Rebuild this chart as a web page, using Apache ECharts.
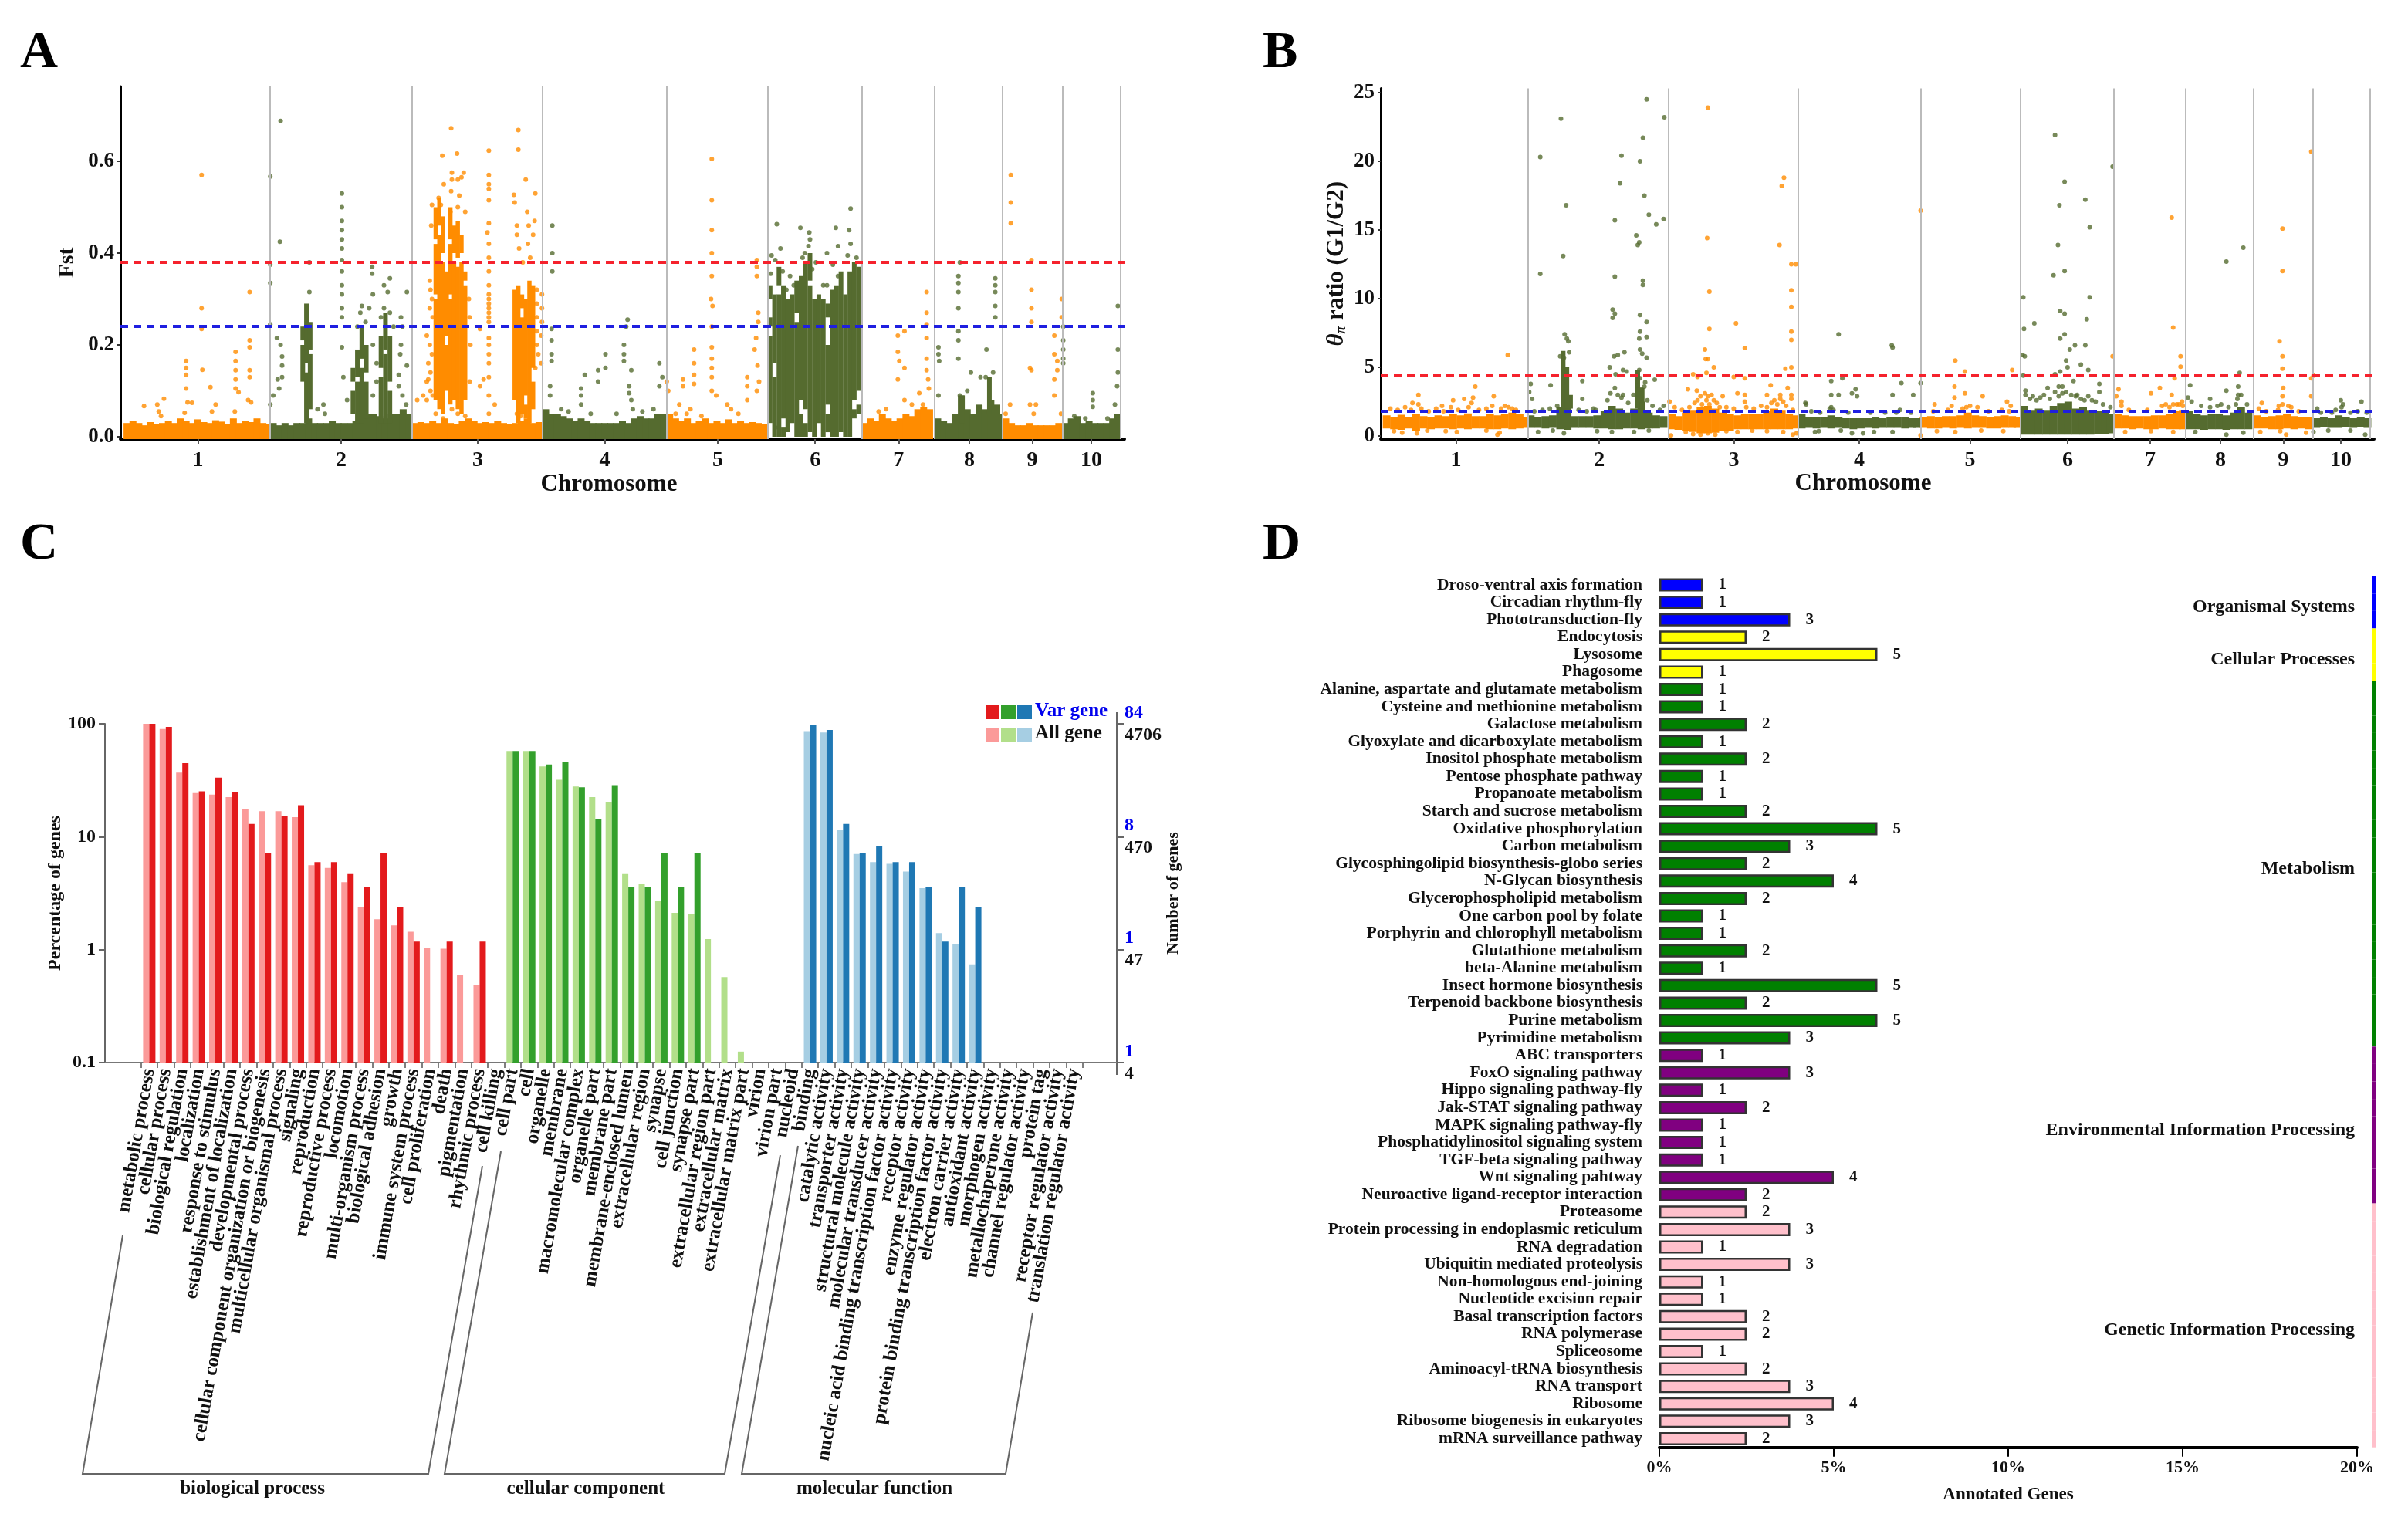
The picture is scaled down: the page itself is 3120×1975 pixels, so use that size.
<!DOCTYPE html>
<html>
<head>
<meta charset="utf-8">
<title>Fst, pi ratio, GO and KEGG panels</title>
<script src="https://cdn.jsdelivr.net/npm/echarts@6/dist/echarts.min.js"></script>
<style>
  html, body { margin: 0; background: #fff; }
  #main { width: 3120px; height: 1975px; }
</style>
</head>
<body>
<div id="main"></div>
<script>
// panel A / B: x is position along the genome in plot units
const chrLabels = ['1', '2', '3', '4', '5', '6', '7', '8', '9', '10'];
const fstChrCenters = [268, 462, 647, 819, 972, 1104, 1217, 1313, 1398, 1478];
const fstChrEnds = [366, 558, 735, 903, 1040, 1167, 1266, 1358, 1439, 1517];
const fstCut = [0.378, 0.237];
const piChrCenters = [279, 473, 655, 825, 975, 1107, 1219, 1314, 1399, 1477];
const piChrEnds = [376, 567, 742, 908, 1043, 1170, 1267, 1359, 1439, 1516];
const piCut = [4.39, 1.82];

// [x, top] baseline of the Fst plot
const fstBaseOrange = [[172,.03],[180,.035],[188,.03],[196,.025],[204,.032],[212,.028],[220,.03],[228,.035],[236,.03],[244,.04],[252,.035],[260,.03],[268,.038],[276,.032],[284,.03],[292,.036],[300,.033],[308,.028],[316,.04],[324,.03],[332,.035],[340,.032],[348,.04],[356,.03],[362,.028],
[562,.03],[570,.032],[578,.03],[586,.035],[594,.03],[602,.04],[610,.03],[618,.028],[626,.035],[634,.04],[642,.035],[650,.03],[658,.032],[666,.03],[674,.035],[682,.03],[690,.028],[698,.03],[706,.035],[714,.04],[722,.03],[730,.032],
[907,.05],[915,.04],[923,.035],[931,.04],[939,.03],[947,.035],[955,.04],[963,.03],[971,.035],[979,.03],[987,.038],[995,.03],[1003,.035],[1011,.03],[1019,.032],[1027,.03],[1035,.028],
[1171,.03],[1179,.04],[1187,.035],[1195,.05],[1203,.04],[1211,.035],[1219,.04],[1227,.05],[1235,.045],[1243,.06],[1251,.065],[1259,.06],
[1362,.04],[1370,.03],[1378,.025],[1386,.025],[1394,.03],[1402,.025],[1410,.025],[1418,.025],[1426,.025],[1434,.03]];
const fstBaseGreen = [[370,.03],[378,.025],[386,.03],[394,.025],[402,.03],[410,.03],[418,.04],[426,.03],[434,.03],[442,.03],[450,.035],[458,.03],[466,.03],[474,.03],[482,.035],[490,.04],[498,.05],[506,.05],[514,.045],[522,.04],[530,.05],[538,.05],[546,.06],[554,.05],
[739,.06],[747,.05],[755,.05],[763,.045],[771,.04],[779,.035],[787,.04],[795,.035],[803,.03],[811,.03],[819,.03],[827,.03],[835,.03],[843,.035],[851,.03],[859,.04],[867,.045],[875,.04],[883,.04],[891,.05],[899,.05],
[1270,.04],[1278,.035],[1286,.03],[1294,.05],[1302,.09],[1310,.06],[1318,.05],[1326,.07],[1334,.06],[1342,.08],[1350,.07],[1354,.05],
[1443,.03],[1451,.04],[1459,.045],[1467,.03],[1475,.035],[1483,.03],[1491,.03],[1499,.03],[1507,.04],[1514,.05]];
// [x, low, high] solid runs of points, with the white gaps left open
const fstRunsOrange = [[590,.08,.3],[590,.31,.42],[590,.43,.5],[595,.06,.44],[595,.46,.52],[600,.05,.38],[600,.4,.48],[605,.1,.2],[605,.22,.36],[610,.07,.3],[610,.31,.42],[610,.43,.5],[615,.08,.38],[615,.4,.46],[620,.06,.37],[620,.39,.47],[625,.05,.38],[625,.4,.44],[630,.08,.33],[630,.34,.36],
[697,.08,.32],[702,.03,.33],[707,.05,.26],[707,.28,.31],[712,.04,.07],[712,.09,.3],[717,.03,.34],[722,.06,.12],[722,.15,.33]];
const fstRunsGreen = [[410,.12,.2],[410,.21,.24],[415,.03,.14],[415,.16,.29],[420,.06,.18],[420,.19,.25],[478,.05,.1],[478,.12,.15],[484,.03,.12],[484,.13,.19],[490,.03,.15],[490,.17,.24],[496,.04,.12],[496,.14,.2],[516,.03,.13],[516,.15,.22],[522,.03,.18],[522,.19,.27],[528,.03,.1],[528,.12,.22],
[1043,.03,.22],[1043,.24,.26],[1043,.3,.33],[1049,0,.13],[1049,.16,.31],[1055,0,.31],[1055,.33,.37],[1061,.04,.33],[1061,0,.02],[1067,.01,.3],[1073,.03,.31],[1079,0,.25],[1079,.27,.34],[1085,0,.05],[1085,.08,.35],[1091,.06,.38],[1091,0,.03],[1097,.01,.33],[1097,.34,.4],[1103,0,.3],[1109,.03,.31],[1115,0,.3],[1121,.01,.05],[1121,.07,.2],[1121,.26,.29],[1127,0,.32],[1133,0,.33],[1139,.01,.36],[1145,0,.31],[1151,0,.36],[1157,.04,.06],[1157,.08,.38],[1163,.05,.07],[1163,.1,.37],
[1303,.03,.09],[1340,.05,.13]];
// [x, y] single points
const fstPointsOrange = [[273,.57],[273,.28],[273,.235],[274,.146],[252,.165],[252,.15],[252,.135],[252,.105],[285,.108],[254,.075],[260,.074],[195,.067],[222,.083],[213,.07],[215,.055],[218,.045],[250,.052],[292,.07],[287,.055],[319,.185],[319,.165],[319,.145],[319,.125],[319,.105],[323,.097],[338,.315],[338,.21],[338,.195],[338,.145],[338,.13],[336,.08],[340,.075],[318,.055],
[611,.672],[702,.668],[702,.625],[599,.612],[619,.617],[662,.623],[612,.575],[612,.56],[620,.56],[628,.575],[625,.565],[662,.57],[662,.55],[662,.54],[712,.56],[601,.55],[611,.535],[696,.527],[725,.53],[662,.515],[622,.525],[594,.52],[585,.505],[597,.505],[620,.5],[630,.49],[610,.49],[697,.51],[714,.49],[584,.46],[662,.465],[660,.445],[662,.42],[700,.46],[700,.44],[716,.46],[724,.47],[722,.44],[715,.42],[703,.41],[718,.39],[708,.38],[662,.39],[662,.36],[662,.33],[662,.31],[662,.3],[662,.29],[662,.28],[662,.27],[662,.26],[662,.25],[650,.235],[662,.215],[662,.2],[662,.18],[662,.16],[655,.125],[650,.11],[662,.13],[670,.07],[662,.09],[662,.05],[580,.16],[580,.125],[590,.05],[600,.04],[565,.08],[573,.09],[612,.06],[620,.05],[630,.045],[700,.05],[705,.045],
[582,.34],[583,.32],[585,.3],[582,.28],[586,.26],[578,.22],[582,.2],[585,.18],[583,.14],[578,.12],[583,.1],[586,.09],[578,.08],[635,.3],[636,.26],[637,.2],[636,.12],[727,.32],[727,.29],[727,.26],[727,.23],[727,.2],[734,.31],[734,.28],[734,.25],[733,.22],[729,.18],[725,.15],[733,.16],
[964,.605],[964,.515],[964,.45],[964,.4],[964,.35],[963,.3],[965,.285],[964,.24],[964,.195],[964,.17],[964,.15],[964,.13],[964,.1],[970,.09],[940,.19],[940,.16],[940,.135],[940,.115],[925,.125],[925,.11],[903,.12],[905,.1],[1025,.385],[1025,.37],[1025,.35],[1027,.27],[1027,.25],[1024,.215],[1022,.19],[1026,.155],[1012,.13],[1012,.11],[1028,.12],[1025,.1],[1012,.08],[985,.07],[990,.06],[1000,.05],[935,.06],[920,.07],[915,.05],[930,.05],[950,.045],
[1255,.315],[1255,.27],[1255,.245],[1255,.215],[1225,.23],[1216,.22],[1216,.185],[1218,.165],[1225,.15],[1216,.125],[1255,.17],[1255,.145],[1257,.125],[1258,.105],[1245,.095],[1225,.08],[1235,.07],[1250,.07],[1200,.06],[1190,.055],
[1369,.57],[1369,.51],[1369,.465],[1397,.385],[1397,.32],[1397,.28],[1397,.25],[1438,.3],[1438,.26],[1428,.22],[1428,.18],[1395,.15],[1397,.145],[1432,.165],[1432,.145],[1428,.125],[1428,.09],[1368,.07],[1395,.07],[1403,.07],[1400,.05],[1437,.05],[1362,.05]];
const fstPointsGreen = [[380,.688],[366,.567],[379,.425],[366,.375],[366,.335],[366,.245],[375,.215],[380,.2],[382,.175],[382,.155],[382,.13],[376,.125],[378,.105],[370,.09],[366,.07],[419,.38],[419,.315],[463,.53],[463,.5],[463,.47],[463,.45],[463,.43],[463,.41],[463,.385],[463,.36],[463,.33],[463,.31],[463,.28],[463,.26],[463,.195],[465,.13],[504,.37],[504,.355],[528,.345],[520,.33],[525,.315],[505,.31],[551,.315],[490,.285],[500,.28],[520,.28],[543,.26],[545,.24],[543,.2],[542,.18],[551,.155],[540,.135],[540,.11],[438,.07],[470,.08],[430,.06],[440,.05],[550,.07],[545,.09],[484,.24],[488,.27],[495,.25],[516,.26],[528,.27],[533,.24],[505,.2],[510,.16],[510,.12],[505,.09],
[748,.46],[748,.4],[748,.36],[747,.235],[747,.21],[747,.18],[747,.165],[745,.11],[745,.09],[850,.255],[848,.24],[845,.2],[845,.18],[845,.165],[820,.18],[820,.15],[792,.135],[810,.145],[810,.12],[787,.105],[787,.09],[787,.07],[855,.145],[852,.11],[852,.095],[855,.08],[893,.16],[897,.13],[893,.11],[857,.06],[870,.055],[885,.06],[760,.06],[770,.055],[800,.05],[835,.05],
[1052,.463],[1084,.455],[1132,.455],[1150,.45],[1152,.497],[1096,.445],[1097,.43],[1095,.415],[1057,.41],[1045,.395],[1135,.415],[1120,.4],[1152,.42],[1148,.395],[1160,.39],[1050,.385],[1087,.39],[1105,.38],[1128,.375],[1090,.4],[1100,.365],[1044,.355],[1060,.36],[1070,.35],[1075,.33],[1115,.33],[1135,.35],[1065,.32],[1050,.02],[1120,.33],
[1300,.38],[1298,.35],[1298,.335],[1298,.315],[1298,.28],[1298,.23],[1298,.21],[1298,.17],[1271,.195],[1271,.18],[1272,.165],[1271,.09],[1348,.345],[1348,.33],[1348,.315],[1348,.285],[1348,.26],[1336,.19],[1345,.14],[1328,.13],[1315,.14],[1310,.1],[1300,.09],[1335,.13],
[1514,.285],[1514,.19],[1514,.14],[1513,.11],[1480,.095],[1480,.08],[1480,.065],[1440,.24],[1440,.21],[1440,.19],[1440,.17],[1440,.16],[1510,.07],[1455,.045],[1470,.04],[1500,.04]];

// [x, low, high] main band of the pi ratio plot
const piBandOrange = [[185,.55,1.5],[195,.5,1.4],[205,.45,1.55],[215,.55,1.4],[225,.4,1.6],[235,.55,1.45],[245,.5,1.4],[255,.55,1.5],[265,.55,1.45],[275,.5,1.6],[285,.55,1.5],[295,.5,1.65],[305,.55,1.45],[315,.55,1.45],[325,.5,1.6],[335,.5,1.5],[345,.55,1.6],[355,.5,1.7],[365,.55,1.6],[372,.6,1.4],
[572,.5,1.6],[580,.45,1.45],[590,.35,1.7],[600,.3,1.9],[610,.2,2.1],[620,.2,2.2],[630,.25,2],[640,.35,1.7],[650,.4,1.6],[660,.5,1.5],[670,.5,1.6],[680,.5,1.6],[690,.5,1.6],[700,.5,1.8],[710,.5,2],[720,.5,1.9],[730,.5,1.6],[738,.55,1.5],
[912,.6,1.4],[922,.55,1.45],[932,.55,1.4],[942,.6,1.45],[952,.55,1.45],[962,.6,1.5],[972,.55,1.7],[982,.6,1.5],[992,.6,1.45],[1002,.55,1.4],[1012,.55,1.45],[1022,.6,1.5],[1032,.6,1.45],[1039,.6,1.4],
[1175,.55,1.6],[1185,.55,1.5],[1195,.5,1.45],[1205,.55,1.45],[1215,.5,1.45],[1225,.5,1.5],[1235,.55,1.5],[1245,.5,1.6],[1255,.5,1.8],[1263,.5,1.9],
[1364,.55,1.5],[1374,.55,1.4],[1384,.5,1.45],[1394,.5,1.5],[1404,.55,1.6],[1414,.5,1.45],[1424,.55,1.4],[1434,.5,1.4]];
const piBandGreen = [[380,.6,1.5],[390,.6,1.4],[400,.55,1.45],[410,.6,1.5],[420,.5,2.1],[430,.45,2.6],[440,.6,1.45],[450,.6,1.45],[460,.6,1.45],[470,.55,1.5],[480,.55,1.8],[490,.5,2.2],[500,.5,2],[510,.55,1.7],[520,.55,2],[530,.5,2.5],[540,.55,1.7],[550,.55,1.5],[560,.6,1.45],
[747,.55,1.6],[757,.6,1.4],[767,.55,1.35],[777,.6,1.4],[787,.55,1.5],[797,.6,1.35],[807,.55,1.3],[817,.5,1.3],[827,.55,1.3],[837,.6,1.3],[847,.55,1.35],[857,.6,1.3],[867,.6,1.35],[877,.6,1.35],[887,.55,1.35],[897,.6,1.3],[903,.6,1.3],
[1048,.1,2.2],[1058,.1,1.9],[1068,.1,2],[1078,.1,1.9],[1088,.1,2.2],[1098,.1,2.4],[1108,.1,2.5],[1118,.1,2],[1128,.1,2.1],[1138,.1,1.9],[1148,.15,1.8],[1158,.15,1.7],[1165,.2,1.6],
[1272,.5,1.8],[1282,.5,1.6],[1292,.45,1.5],[1302,.5,1.6],[1312,.5,1.6],[1322,.45,1.5],[1332,.5,1.7],[1342,.5,2.1],[1352,.5,1.7],
[1444,.6,1.3],[1454,.65,1.35],[1464,.6,1.3],[1474,.6,1.5],[1484,.65,1.35],[1494,.6,1.3],[1504,.65,1.35],[1513,.6,1.3]];
const piRunsGreen = [[424,2,6.2],[429,2,5],[434,2,3],[525,2,4.8],[531,2,3.5]];
const piPointsOrange = [[349,5.9],[228,3],[305,3.6],[275,2.6],[220,2.4],[228,2.3],[290,2.7],[302,2.8],[330,2.9],[260,2.2],[345,2.2],[355,2],[300,2.4],[335,.1],
[190,2],[200,1.9],[210,2.1],[218,1.9],[232,2],[242,1.8],[252,2],[262,1.8],[272,2.1],[282,1.9],[296,2.1],[310,1.9],[320,2],[328,2.2],[340,2],[350,2.1],[360,1.9],[195,.35],[206,.25],[226,.2],[240,.4],[265,.35],[280,.3],[320,.4],[338,.25],
[620,23.9],[723,18.8],[720,18.2],[619,14.4],[717,13.9],[739,12.5],[733,12.5],[733,10.6],[622,10.5],[733,9.4],[658,8.2],[622,7.8],[733,7.6],[733,7],[670,6.4],[616,6.3],[617,5.6],[620,5.6],[628,5],[725,4.9],[733,5],[600,4.5],[618,4.6],[606,4.3],[670,4.2],[655,4.3],[593,3.4],[605,3.3],[705,3.7],[728,3.5],[733,3],[733,2.7],[660,3.1],[670,3],[640,2.9],[670,2.5],[718,3],[700,3],[568,2.5],[570,.05],
[575,2.1],[585,1.9],[595,2.1],[602,2.4],[606,2.6],[610,2.9],[612,2.3],[616,3.1],[618,2.6],[620,2.9],[622,2.3],[625,3],[628,2.6],[632,2.4],[636,2.1],[645,2.1],[655,2],[672,2.1],[682,2],[692,2.2],[700,2.1],[706,2.4],[710,2.6],[714,2.3],[718,2.7],[722,2.5],[726,2.2],[735,1.9],[590,.3],[600,.15],[610,.1],[620,.2],[630,.1],[645,.35],[660,.3],[680,.4],[700,.35],[722,.3],[735,.1],[740,.2],
[908,16.4],[955,5.5],[968,4.7],[1032,4.8],[954,3.6],[954,2.8],[968,3.1],[992,2.9],[927,2.3],[1025,2.5],[1030,2.2],[908,.05],[970,2.1],[950,2.2],
[925,1.8],[945,1.9],[965,2],[975,2.2],[985,2.1],[1000,1.8],[1018,1.9],[1028,1.8],[930,.35],[955,.3],[990,.4],[1020,.35],
[1248,15.9],[1250,7.9],[1168,5.8],[1260,5.8],[1260,5.05],[1252,4.2],[1176,3.4],[1232,3.5],[1220,3.1],[1248,3],[1173,2.9],[1180,2.5],[1250,2.3],[1263,2.2],[1258,2.3],[1235,2.2],[1240,2.3],
[1180,2.2],[1190,1.9],[1215,1.9],[1245,2.1],[1255,2.3],[1262,2.5],[1185,.3],[1220,.35],[1250,.3],
[1437,20.7],[1398,15.1],[1398,12],[1394,6.9],[1398,5.8],[1398,4.9],[1437,4.2],[1440,4.4],[1399,3.5],[1398,2.9],[1437,2.9],[1398,2.3],[1370,2.4],[1410,2.1],[1393,2.2],[1403,.1],
[1366,2],[1376,1.8],[1392,1.9],[1406,2.2],[1420,1.8],[1368,.3],[1395,.35],[1430,.25]];
const piPointsGreen = [[393,20.3],[421,23.1],[393,11.8],[424,13.1],[428,16.8],[503,20.4],[501,18.4],[494,15.7],[494,11.6],[491,9.2],[494,8.9],[491,8.6],[537,24.5],[561,23.2],[532,21.7],[528,20],[534,17.5],[540,16.1],[550,15.4],[560,15.8],[523,14.6],[527,14.1],[525,13.9],[532,11.3],[532,11],[528,8.8],[537,8.3],[528,7.6],[527,7.1],[537,7.2],[528,6.3],[531,6],[537,5.7],[507,6.1],[498,5.9],[493,5.8],[426,7.4],[429,7.1],[431,6.9],[420,5.8],[432,6.1],[425,5.7],[487,5],[505,4.8],[510,4.7],[495,4.5],[527,4.8],[450,4],[407,3.7],[380,3.8],[378,3.2],[382,2.7],[450,2.7],[548,4.1],[535,3.9],[530,3.4],[465,2],[505,3],[560,2.2],
[385,1.8],[396,1.9],[406,2],[416,2.2],[445,1.9],[456,1.8],[468,1.9],[484,2.6],[488,3.1],[494,3.5],[498,3],[503,2.8],[512,2.4],[519,3],[524,3.7],[528,4.2],[534,3.6],[538,2.6],[545,2.2],[555,1.9],[390,.3],[410,.4],[425,.2],[470,.35],[490,.3],[520,.3],[540,.4],
[797,7.4],[869,6.6],[870,6.45],[787,4],[802,4.2],[882,3.85],[908,3.85],[787,3],[797,3],[820,3.4],[815,3.1],[822,2.9],[870,3],[898,3],[753,2.3],[787,2.1],[880,1.9],[815,.2],[830,.2],[765,.3],
[752,2.4],[760,1.8],[772,1.7],[785,2],[790,1.9],[810,1.7],[840,1.7],[860,1.7],[875,1.7],[895,1.7],[770,.35],[800,.4],[845,.3],[870,.3],
[1090,21.9],[1168,19.6],[1103,18.5],[1131,17.2],[1096,16.8],[1137,15.2],[1094,13.9],[1103,12],[1088,11.7],[1137,10.1],[1047,10.1],[1097,9.1],[1103,8.9],[1133,8.5],[1062,8.2],[1048,7.8],[1103,7.4],[1097,7.1],[1117,6.6],[1131,6.6],[1110,6.3],[1046,5.9],[1049,5.8],[1105,5.5],[1125,5.2],[1107,5],[1097,4.7],[1135,4.8],[1090,4.5],[1047,4.4],[1115,4],[1095,3.6],[1080,3.5],[1150,3.8],[1050,3.3],[1060,2.9],[1120,3],[1150,3.2],[1100,3.1],[1070,2.8],[1130,2.6],
[1050,3],[1056,2.7],[1065,2.6],[1075,3],[1083,2.7],[1090,3.2],[1095,2.9],[1100,3.6],[1105,3.2],[1112,3],[1118,2.9],[1125,2.7],[1135,2.9],[1140,2.6],[1145,2.5],[1155,2.3],[1165,2.1],
[1345,13.7],[1322,12.7],[1340,4.6],[1273,3.7],[1322,3.3],[1338,3.6],[1338,3],[1270,2.8],[1337,2.7],[1300,2.7],[1315,2.3],
[1275,2.5],[1288,2.2],[1300,2.1],[1310,2.2],[1325,2.1],[1335,2.3],[1342,3],[1350,2.3],[1280,.3],[1322,.1],[1345,.25],
[1477,2.6],[1505,2.5],[1480,2.3],[1445,2],[1470,1.9],[1440,.3],[1510,.1],
[1450,1.7],[1465,1.7],[1478,2.1],[1490,1.7],[1500,1.8],[1512,1.7],[1460,.4],[1490,.4]];

// panel C
const goTerms = ['metabolic process','cellular process','biological regulation','localization','response to stimulus','establishment of localization','developmental process','cellular component organization or biogenesis','multicellular organismal process','signaling','reproduction','reproductive process','locomotion','multi-organism process','biological adhesion','growth','immune system process','cell proliferation','death','pigmentation','rhythmic process','cell killing',
'cell part','cell','organelle','membrane','macromolecular complex','organelle part','membrane part','membrane-enclosed lumen','extracellular region','synapse','cell junction','synapse part','extracellular region part','extracellular matrix','extracellular matrix part','virion','virion part','nucleoid',
'binding','catalytic activity','transporter activity','structural molecule activity','molecular transducer activity','nucleic acid binding transcription factor activity','receptor activity','enzyme regulator activity','protein binding transcription factor activity','electron carrier activity','antioxidant activity','morphogen activity','metallochaperone activity','channel regulator activity','protein tag','receptor regulator activity','translation regulator activity'];
const goAllGene = [100,90,37,24.4,23.6,22.4,17.7,16.8,16.8,14.9,5.6,5.3,3.96,2.38,1.86,1.64,1.44,1.03,1.02,.594,.484,null,
57.4,57.4,41.9,31.9,27.9,22.4,20.4,4.74,3.81,2.71,2.12,2.05,1.24,.572,.125,null,null,null,
86.2,83.7,11.5,7.03,5.95,5.76,4.92,3.5,1.4,1.11,.74,null,null,null,null,null,null];
const goVarGene = [100,94,44.8,25.2,33.4,25,13,7.14,15.3,19,5.95,5.95,4.75,3.57,7.14,2.38,1.18,null,1.18,null,1.18,null,
57.4,57.4,43.6,45.9,27.4,14.3,28.6,3.57,3.57,7.14,3.57,7.14,null,null,null,null,null,null,
97,88,13,7.14,8.3,5.95,5.95,3.57,1.18,3.57,2.38,null,null,null,null,null,null];
const goGroupSizes = [22, 18, 17];
const goVarColors = ['#e31a1c', '#33a02c', '#1f78b4'];
const goAllColors = ['#fb9a99', '#b2df8a', '#a6cee3'];
const pctTicks = ['0.1', '1', '10', '100'];
const varGeneTicks = ['1', '1', '8', '84'];
const allGeneTicks = ['4', '47', '470', '4706'];

// panel D
const pathways = ['Droso-ventral axis formation','Circadian rhythm-fly','Phototransduction-fly','Endocytosis','Lysosome','Phagosome','Alanine, aspartate and glutamate metabolism','Cysteine and methionine metabolism','Galactose metabolism','Glyoxylate and dicarboxylate metabolism','Inositol phosphate metabolism','Pentose phosphate pathway','Propanoate metabolism','Starch and sucrose metabolism','Oxidative phosphorylation','Carbon metabolism','Glycosphingolipid biosynthesis-globo series','N-Glycan biosynthesis','Glycerophospholipid metabolism','One carbon pool by folate','Porphyrin and chlorophyll metabolism','Glutathione metabolism','beta-Alanine metabolism','Insect hormone biosynthesis','Terpenoid backbone biosynthesis','Purine metabolism','Pyrimidine metabolism','ABC transporters','FoxO signaling pathway','Hippo signaling pathway-fly','Jak-STAT signaling pathway','MAPK signaling pathway-fly','Phosphatidylinositol signaling system','TGF-beta signaling pathway','Wnt signaling pahtway','Neuroactive ligand-receptor interaction','Proteasome','Protein processing in endoplasmic reticulum','RNA degradation','Ubiquitin mediated proteolysis','Non-homologous end-joining','Nucleotide excision repair','Basal transcription factors','RNA polymerase','Spliceosome','Aminoacyl-tRNA biosynthesis','RNA transport','Ribosome','Ribosome biogenesis in eukaryotes','mRNA surveillance pathway'];
const pathwayCounts = [1,1,3,2,5,1,1,1,2,1,2,1,1,2,5,3,2,4,2,1,1,2,1,5,2,5,3,1,3,1,2,1,1,1,4,2,2,3,1,3,1,1,2,2,1,2,3,4,3,2];
const annotatedTotal = 80;
const keggGroupSizes = [3, 3, 21, 9, 14];
const keggColors = ['#0000ff', '#ffff00', '#008000', '#800080', '#ffc0cb'];

const SERIF = '"Liberation Serif", "Times New Roman", serif';
const ORANGE = '#ff8c00';
const OLIVE = '#556b2f';

const txt = (size, extra) => Object.assign({ fontFamily: SERIF, fontWeight: 'bold', fontSize: size, color: '#111' }, extra);

// group index -> colour for a row, from the group sizes
function colorOf(sizes, colors, i) {
  let n = 0;
  for (let g = 0; g < sizes.length; g++) {
    n += sizes[g];
    if (i < n) return colors[g];
  }
  return colors[colors.length - 1];
}
const keggRowColors = pathways.map((p, i) => colorOf(keggGroupSizes, keggColors, i));

// draws vertical runs [x, low, high] through the axes of the series
function runSeries(idx, data, color, w) {
  return {
    type: 'custom', xAxisIndex: idx, yAxisIndex: idx, silent: true, z: 2, clip: true,
    data: data,
    encode: { x: 0, y: [1, 2] },
    renderItem: function (params, api) {
      const lo = api.coord([api.value(0), api.value(1)]);
      const hi = api.coord([api.value(0), api.value(2)]);
      return { type: 'rect', shape: { x: lo[0] - w / 2, y: hi[1], width: w, height: lo[1] - hi[1] }, style: { fill: color } };
    }
  };
}
function dotSeries(idx, data, color) {
  return { type: 'scatter', xAxisIndex: idx, yAxisIndex: idx, data: data, symbolSize: 6, silent: true, z: 3, itemStyle: { color: color } };
}
// bars on the log axis of panel C have to start at the axis floor, not at 1
function goBars(values, colors, side) {
  const rows = [];
  values.forEach((v, i) => { if (v !== null) rows.push([i, v]); });
  return {
    type: 'custom', xAxisIndex: 3, yAxisIndex: 3, silent: true, z: 2,
    data: rows,
    encode: { x: 0, y: 1 },
    renderItem: function (params, api) {
      const top = api.coord([api.value(0), api.value(1)]);
      const base = api.coord([api.value(0), 0.1]);
      return { type: 'rect',
        shape: { x: top[0] + (side < 0 ? -8 : 0), y: top[1], width: 8, height: base[1] - top[1] },
        style: { fill: colorOf(goGroupSizes, colors, api.value(0)) } };
    }
  };
}
// chromosome separators and the two cut-off lines
function linesSeries(idx, ends, cuts) {
  return [
    { type: 'scatter', xAxisIndex: idx, yAxisIndex: idx, data: [], silent: true, z: 1,
      markLine: { silent: true, symbol: 'none', animation: false, label: { show: false }, lineStyle: { color: '#bbb', width: 2, type: 'solid' },
        data: ends.map(v => ({ xAxis: v })) } },
    { type: 'scatter', xAxisIndex: idx, yAxisIndex: idx, data: [], silent: true, z: 5,
      markLine: { silent: true, symbol: 'none', animation: false, z: 5, label: { show: false },
        data: [
          { yAxis: cuts[0], lineStyle: { color: '#f5222d', width: 4, type: [10, 7] } },
          { yAxis: cuts[1], lineStyle: { color: '#1f1fe0', width: 4, type: [10, 7] } }
        ] } }
  ];
}
function manhattanX(idx, min, max, centers) {
  return {
    type: 'value', gridIndex: idx, min: min, max: max,
    splitLine: { show: false },
    axisLine: { show: true, onZero: false, lineStyle: { color: '#000', width: 4 } },
    axisTick: { show: true, customValues: centers, length: 6, lineStyle: { color: '#555', width: 2 } },
    axisLabel: { customValues: centers, margin: 14, formatter: v => chrLabels[centers.indexOf(v)], ...txt(28) }
  };
}

const grids = [
  { left: 156, top: 112, width: 1301, height: 457 },
  { left: 1789, top: 114.5, width: 1287, height: 454.5 },
  { left: 136, top: 938, width: 1311, height: 439 },
  { left: 182.7, top: 938, width: 1220, height: 439 },
  { left: 2150, top: 746.7, width: 904, height: 1129 },
  { left: 3073, top: 746.7, width: 5, height: 1129 }
];

const option = {
  backgroundColor: '#fff',
  animation: false,
  grid: grids,
  xAxis: [
    manhattanX(0, 163, 1523, fstChrCenters),
    manhattanX(1, 177, 1522, piChrCenters),
    { type: 'value', gridIndex: 2, min: 0, max: 1, axisLine: { show: true, onZero: false, lineStyle: { color: '#777', width: 2 } }, axisTick: { show: false }, axisLabel: { show: false }, splitLine: { show: false } },
    { type: 'category', gridIndex: 3, data: goTerms,
      axisLine: { show: false },
      axisTick: { show: true, length: 7, lineStyle: { color: '#555', width: 1.5 } },
      axisLabel: { interval: 0, rotate: 80, margin: 8, hideOverlap: false, ...txt(25) } },
    { type: 'value', gridIndex: 4, min: 0, max: 20, interval: 5,
      name: 'Annotated Genes', nameLocation: 'middle', nameGap: 50, nameTextStyle: txt(23),
      splitLine: { show: false },
      axisLine: { show: true, onZero: false, lineStyle: { color: '#000', width: 4 } },
      axisTick: { show: true, length: 12, lineStyle: { color: '#000', width: 2 } },
      axisLabel: { formatter: '{value}%', margin: 16, ...txt(22) } },
    { type: 'value', gridIndex: 5, min: 0, max: 1, show: false }
  ],
  yAxis: [
    { type: 'value', gridIndex: 0, min: -0.005, max: 0.763,
      name: 'Fst', nameLocation: 'middle', nameGap: 54, nameRotate: 90, nameTextStyle: txt(30),
      splitLine: { show: false },
      axisLine: { show: true, lineStyle: { color: '#000', width: 3 } },
      axisTick: { show: true, customValues: [0, .2, .4, .6], length: 4, lineStyle: { color: '#333', width: 2 } },
      axisLabel: { customValues: [0, .2, .4, .6], margin: 8, formatter: v => v.toFixed(1), ...txt(27) } },
    { type: 'value', gridIndex: 1, min: -0.22, max: 25.3,
      name: '{t|\u03b8}{s|\u03c0}{n| ratio (G1/G2)}', nameLocation: 'middle', nameGap: 42, nameRotate: 90,
      nameTextStyle: txt(31, { rich: {
        t: txt(31, { fontStyle: 'italic' }),
        s: txt(18, { fontStyle: 'italic', verticalAlign: 'bottom', padding: [10, 0, 0, 0] }),
        n: txt(31)
      } }),
      splitLine: { show: false },
      axisLine: { show: true, lineStyle: { color: '#000', width: 3 } },
      axisTick: { show: true, customValues: [0, 5, 10, 15, 20, 25], length: 4, lineStyle: { color: '#333', width: 2 } },
      axisLabel: { customValues: [0, 5, 10, 15, 20, 25], margin: 8, ...txt(27) } },
    { type: 'log', logBase: 10, gridIndex: 2, min: 0.1, max: 100, position: 'left',
      name: 'Percentage of genes', nameLocation: 'middle', nameGap: 36, nameTextStyle: txt(24),
      splitLine: { show: false }, minorTick: { show: false },
      axisLine: { show: true, lineStyle: { color: '#666', width: 2 } },
      axisTick: { show: true, length: 8, lineStyle: { color: '#666', width: 2 } },
      axisLabel: { margin: 12, formatter: v => pctTicks[Math.round(Math.log10(v)) + 1], ...txt(24) } },
    { type: 'log', logBase: 10, gridIndex: 3, min: 0.1, max: 100, show: false },
    { type: 'category', gridIndex: 4, inverse: true, data: pathways,
      axisLine: { show: false }, axisTick: { show: false },
      axisLabel: { interval: 0, margin: 22, ...txt(21.5) } },
    { type: 'category', gridIndex: 5, inverse: true, data: pathways, show: false },
    { type: 'log', logBase: 10, gridIndex: 2, min: 0.1, max: 100, position: 'right',
      name: 'Number of genes', nameLocation: 'middle', nameGap: 62, nameRotate: 90, nameTextStyle: txt(22),
      splitLine: { show: false }, minorTick: { show: false },
      axisLine: { show: false },
      axisTick: { show: true, length: 9, lineStyle: { color: '#666', width: 2 } },
      axisLabel: { margin: 10, align: 'left',
        formatter: v => { const i = Math.round(Math.log10(v)) + 1; return '{a|' + varGeneTicks[i] + '}\n{b|' + allGeneTicks[i] + '}'; },
        rich: { a: txt(24, { color: '#0000ee', lineHeight: 29 }), b: txt(24, { lineHeight: 29 }) } } }
  ],
  series: [
    ...linesSeries(0, fstChrEnds, fstCut),
    runSeries(0, fstBaseOrange.map(d => [d[0], -0.005, d[1]]), ORANGE, 9),
    runSeries(0, fstBaseGreen.map(d => [d[0], -0.005, d[1]]), OLIVE, 9),
    runSeries(0, fstRunsOrange, ORANGE, 5.5),
    runSeries(0, fstRunsGreen, OLIVE, 6),
    dotSeries(0, fstPointsOrange, ORANGE),
    dotSeries(0, fstPointsGreen, OLIVE),

    ...linesSeries(1, piChrEnds, piCut),
    runSeries(1, piBandOrange, ORANGE, 10),
    runSeries(1, piBandGreen, OLIVE, 10),
    runSeries(1, piRunsGreen, OLIVE, 6),
    dotSeries(1, piPointsOrange, ORANGE),
    dotSeries(1, piPointsGreen, OLIVE),

    goBars(goAllGene, goAllColors, -1),
    goBars(goVarGene, goVarColors, 1),
    // keeps the two axes of panel C on the frame grid
    { type: 'bar', xAxisIndex: 2, yAxisIndex: 6, data: [], silent: true },
    { type: 'bar', xAxisIndex: 2, yAxisIndex: 2, data: [], silent: true },

    { type: 'bar', xAxisIndex: 4, yAxisIndex: 4, barWidth: 17, silent: true,
      data: pathwayCounts.map(n => n / annotatedTotal * 100),
      itemStyle: { color: p => keggRowColors[p.dataIndex], borderColor: '#333', borderWidth: 2.5 },
      label: { show: true, position: 'right', distance: 20, formatter: p => pathwayCounts[p.dataIndex], ...txt(21) } },
    { type: 'bar', xAxisIndex: 5, yAxisIndex: 5, barCategoryGap: 0, silent: true,
      data: pathways.map(() => 1),
      itemStyle: { color: p => keggRowColors[p.dataIndex] } }
  ],
  graphic: { elements: [
    { type: 'text', left: 26, top: 35, style: { text: 'A', font: 'bold 68px ' + SERIF, fill: '#000' } },
    { type: 'text', left: 1636, top: 35, style: { text: 'B', font: 'bold 68px ' + SERIF, fill: '#000' } },
    { type: 'text', left: 26, top: 672, style: { text: 'C', font: 'bold 68px ' + SERIF, fill: '#000' } },
    { type: 'text', left: 1636, top: 672, style: { text: 'D', font: 'bold 68px ' + SERIF, fill: '#000' } },

    // x titles of A and B sit left of the axis middle
    { type: 'text', x: 789, y: 628, style: { text: 'Chromosome', font: 'bold 31px ' + SERIF, fill: '#111', textAlign: 'center', textVerticalAlign: 'middle' } },
    { type: 'text', x: 2414, y: 627, style: { text: 'Chromosome', font: 'bold 31px ' + SERIF, fill: '#111', textAlign: 'center', textVerticalAlign: 'middle' } },

    // right hand axis of panel C runs past the ticks
    { type: 'line', shape: { x1: 1447, y1: 923, x2: 1447, y2: 1393 }, style: { stroke: '#666', lineWidth: 2 } },

    // panel C legend
    { type: 'rect', shape: { x: 1277, y: 914, width: 18, height: 18 }, style: { fill: goVarColors[0] } },
    { type: 'rect', shape: { x: 1297, y: 914, width: 19, height: 18 }, style: { fill: goVarColors[1] } },
    { type: 'rect', shape: { x: 1318, y: 914, width: 19, height: 18 }, style: { fill: goVarColors[2] } },
    { type: 'rect', shape: { x: 1277, y: 943, width: 18, height: 19 }, style: { fill: goAllColors[0] } },
    { type: 'rect', shape: { x: 1297, y: 943, width: 19, height: 19 }, style: { fill: goAllColors[1] } },
    { type: 'rect', shape: { x: 1318, y: 943, width: 19, height: 19 }, style: { fill: goAllColors[2] } },
    { type: 'text', left: 1341, top: 909, style: { text: 'Var gene', font: 'bold 25px ' + SERIF, fill: '#0000ee' } },
    { type: 'text', left: 1341, top: 938, style: { text: 'All gene', font: 'bold 25px ' + SERIF, fill: '#111' } },

    // panel C brackets
    { type: 'polyline', shape: { points: [[159, 1601], [107, 1910], [555, 1910], [625, 1511]] }, style: { stroke: '#666', lineWidth: 2, fill: 'none' } },
    { type: 'polyline', shape: { points: [[649, 1492], [576, 1910], [939, 1910], [1011, 1497]] }, style: { stroke: '#666', lineWidth: 2, fill: 'none' } },
    { type: 'polyline', shape: { points: [[1034, 1485], [961, 1910], [1303, 1910], [1338, 1701]] }, style: { stroke: '#666', lineWidth: 2, fill: 'none' } },
    { type: 'text', x: 327, y: 1930, style: { text: 'biological process', font: 'bold 25px ' + SERIF, fill: '#111', textAlign: 'center', textVerticalAlign: 'middle' } },
    { type: 'text', x: 759, y: 1930, style: { text: 'cellular component', font: 'bold 25px ' + SERIF, fill: '#111', textAlign: 'center', textVerticalAlign: 'middle' } },
    { type: 'text', x: 1133, y: 1930, style: { text: 'molecular function', font: 'bold 25px ' + SERIF, fill: '#111', textAlign: 'center', textVerticalAlign: 'middle' } },

    // panel D group names
    { type: 'text', x: 3051, y: 787, style: { text: 'Organismal Systems', font: 'bold 24px ' + SERIF, fill: '#111', textAlign: 'right', textVerticalAlign: 'middle' } },
    { type: 'text', x: 3051, y: 855, style: { text: 'Cellular Processes', font: 'bold 24px ' + SERIF, fill: '#111', textAlign: 'right', textVerticalAlign: 'middle' } },
    { type: 'text', x: 3051, y: 1126, style: { text: 'Metabolism', font: 'bold 24px ' + SERIF, fill: '#111', textAlign: 'right', textVerticalAlign: 'middle' } },
    { type: 'text', x: 3051, y: 1465, style: { text: 'Environmental Information Processing', font: 'bold 24px ' + SERIF, fill: '#111', textAlign: 'right', textVerticalAlign: 'middle' } },
    { type: 'text', x: 3051, y: 1724, style: { text: 'Genetic Information Processing', font: 'bold 24px ' + SERIF, fill: '#111', textAlign: 'right', textVerticalAlign: 'middle' } }
  ] }
};

const chart = echarts.init(document.getElementById('main'));
chart.setOption(option);
</script>
</body>
</html>
